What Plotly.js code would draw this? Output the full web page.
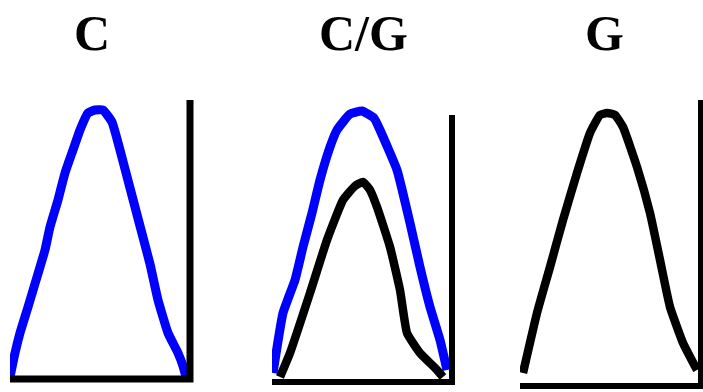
<!DOCTYPE html>
<html>
<head>
<meta charset="utf-8">
<script src="https://cdn.plot.ly/plotly-3.0.1.min.js"></script>
<style>
  html, body { margin: 0; padding: 0; background: white; }
  #chart { width: 703px; height: 392px; }
</style>
</head>
<body>
<div id="chart"></div>
<script>
// peak traces (scan index, signal)
const panelTitles = ["C", "C/G", "G"];

const cX = [0, 5, 10, 18, 27, 35, 40, 48, 55, 63, 70, 78, 85, 93, 102, 110, 120, 130, 140, 148, 158, 168, 173, 176];
const cBlue = [2, 26, 46, 72, 102, 129, 152, 179, 206, 229, 249, 266, 269, 269, 257, 229, 191, 153, 115, 79, 46, 26, 13, 2];

const cgBlueX = [1, 11, 23, 31, 40, 48, 58, 65, 78, 90, 102, 108, 125, 138, 148, 158, 168, 175];
const cgBlue = [9, 69, 102, 135, 169, 202, 235, 252, 268, 271, 264, 252, 212, 159, 115, 75, 42, 12];
const cgBlackX = [8, 18, 38, 55, 71, 83, 91, 98, 105, 118, 128, 135, 148, 165, 171];
const cgBlack = [5, 29, 89, 142, 182, 196, 200, 192, 175, 135, 92, 49, 29, 12, 5];

const gX = [3, 17, 30, 43, 57, 70, 80, 87, 95, 103, 117, 130, 140, 150, 163, 177];
const gBlack = [13, 73, 119, 166, 213, 253, 271, 273, 271, 259, 219, 173, 126, 79, 43, 16];

const W = 703, H = 392;
const px = (a, b) => [a / W, b / W];
const py = (top, bottom) => [(H - bottom) / H, (H - top) / H];

const traces = [
  { x: cX, y: cBlue, xaxis: "x", yaxis: "y", line: { color: "#0000ff", width: 9 } },
  { x: cgBlueX, y: cgBlue, xaxis: "x2", yaxis: "y2", line: { color: "#0000ff", width: 9 } },
  { x: cgBlackX, y: cgBlack, xaxis: "x2", yaxis: "y2", line: { color: "#000000", width: 8.5 } },
  { x: gX, y: gBlack, xaxis: "x3", yaxis: "y3", line: { color: "#000000", width: 8.5 } }
].map((t) => ({
  ...t,
  type: "scatter",
  mode: "lines",
  line: { ...t.line, shape: "spline", smoothing: 0.4 },
  hoverinfo: "skip"
}));

const hidden = { visible: true, showgrid: false, zeroline: false, showticklabels: false, ticks: "", showline: false, fixedrange: true };

function frame(n, top, width) {
  const xr = n === 1 ? "x domain" : "x" + n + " domain";
  const yr = n === 1 ? "y domain" : "y" + n + " domain";
  return {
    type: "path",
    xref: xr,
    yref: yr,
    path: `M0,0 L1,0 L1,${top}`,
    line: { color: "black", width: width }
  };
}

const layout = {
  width: W,
  height: H,
  margin: { l: 0, r: 0, t: 0, b: 0 },
  paper_bgcolor: "white",
  plot_bgcolor: "rgba(0,0,0,0)",
  showlegend: false,
  xaxis: { ...hidden, domain: px(10, 190), range: [0, 180] },
  yaxis: { ...hidden, domain: py(100, 379), range: [0, 279] },
  xaxis2: { ...hidden, domain: px(272, 452), range: [0, 180] },
  yaxis2: { ...hidden, domain: py(100, 382), range: [0, 282] },
  xaxis3: { ...hidden, domain: px(520, 701), range: [0, 181] },
  yaxis3: { ...hidden, domain: py(100, 386), range: [0, 286] },
  shapes: [frame(1, 1, 7), frame(2, 0.947, 6), frame(3, 1, 6)],
  annotations: [
    { text: panelTitles[0], x: 92 / W },
    { text: panelTitles[1], x: 363 / W },
    { text: panelTitles[2], x: 604 / W }
  ].map((a) => ({
    ...a,
    xref: "paper",
    yref: "paper",
    y: (H - 33) / H,
    xanchor: "center",
    yanchor: "middle",
    showarrow: false,
    font: { family: "Liberation Serif", size: 50, color: "black", weight: "bold" }
  }))
};

Plotly.newPlot("chart", traces, layout, { staticPlot: true });
</script>
</body>
</html>
